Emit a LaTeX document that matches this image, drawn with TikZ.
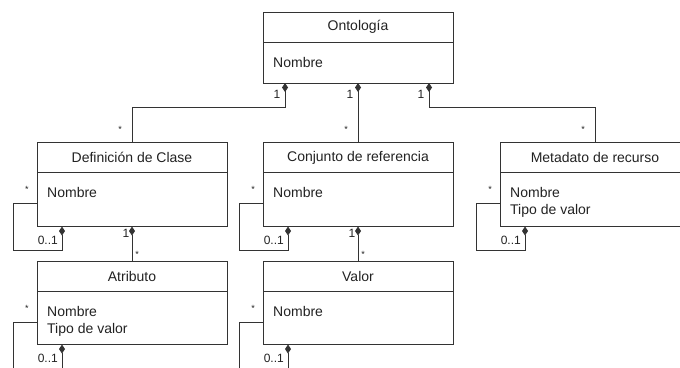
\documentclass[tikz,border=0pt]{standalone}
\usepackage{fontspec}
\setmainfont{Liberation Sans}
\usepackage{tikz}
\usetikzlibrary{positioning,calc,arrows.meta}

\definecolor{linec}{HTML}{333333}
\definecolor{textc}{HTML}{222222}

\tikzset{
  classhead/.style={draw=linec, line width=1pt, outer sep=0pt, minimum width=190pt,
    minimum height=30pt, inner sep=0pt, text=textc, font=\fontsize{14}{17}\selectfont},
  classbody/.style={draw=linec, line width=1pt, outer sep=0pt, minimum width=190pt, inner sep=0pt},
  attrtext/.style={anchor=north west, inner sep=0pt, align=left, text=textc,
    font=\fontsize{14}{17}\selectfont},
  comp/.style={draw=linec, line width=1pt, -{Diamond[length=9pt,width=6pt]}},
  mult/.style={inner sep=0pt, text=textc, font=\fontsize{12}{12}\selectfont},
  star/.style={mult, font=\fontsize{9}{9}\selectfont}
}

\begin{document}
\begin{tikzpicture}[x=1pt, y=-1pt]
    \useasboundingbox (0,0) rectangle (680,367);
    \clip (0,0) rectangle (680,367);

    % clases
    \node[classhead] (onto-h) at (358,27) {Ontología};
    \node[classbody, minimum height=41pt, below=0pt of onto-h] (onto-b) {};
    \node[attrtext] (onto-t) at ($(onto-b.north west)+(10,15)$) {Nombre};

    \node[classhead] (defc-h) at (132,157.5) {Definición de Clase};
    \node[classbody, minimum height=54pt, below=0pt of defc-h] (defc-b) {};
    \node[attrtext] (defc-t) at ($(defc-b.north west)+(10,15)$) {Nombre};

    \node[classhead] (conj-h) at (358,157.5) {Conjunto de referencia};
    \node[classbody, minimum height=54pt, below=0pt of conj-h] (conj-b) {};
    \node[attrtext] (conj-t) at ($(conj-b.north west)+(10,15)$) {Nombre};

    \node[classhead] (meta-h) at (595,157.5) {Metadato de recurso};
    \node[classbody, minimum height=54pt, below=0pt of meta-h] (meta-b) {};
    \node[attrtext] (meta-t) at ($(meta-b.north west)+(10,15)$) {Nombre\\Tipo de valor};

    \node[classhead] (atri-h) at (132,276.5) {Atributo};
    \node[classbody, minimum height=53pt, below=0pt of atri-h] (atri-b) {};
    \node[attrtext] (atri-t) at ($(atri-b.north west)+(10,15)$) {Nombre\\Tipo de valor};

    \node[classhead] (valo-h) at (358,276.5) {Valor};
    \node[classbody, minimum height=53pt, below=0pt of valo-h] (valo-b) {};
    \node[attrtext] (valo-t) at ($(valo-b.north west)+(10,15)$) {Nombre};

    % composiciones desde Ontologia
    \coordinate (onto-l) at ($(onto-b.south)+(-73,0)$);
    \coordinate (onto-r) at ($(onto-b.south)+(71,0)$);
    \draw[comp] (defc-h.north) -- ++(0,-35) -| (onto-l);
    \draw[comp] (conj-h.north) -- (onto-b.south);
    \draw[comp] (meta-h.north) -- ++(0,-35) -| (onto-r);
    \node[mult] (m1) at ($(onto-l)+(-8,11)$) {1};
    \node[mult] (m2) at ($(onto-b.south)+(-8,11)$) {1};
    \node[mult] (m3) at ($(onto-r)+(-8,11)$) {1};
    \node[star] (m4) at ($(defc-h.north)+(-12,-13)$) {*};
    \node[star] (m5) at ($(conj-h.north)+(-12,-13)$) {*};
    \node[star] (m6) at ($(meta-h.north)+(-12,-13)$) {*};

    % composiciones hacia abajo
    \draw[comp] (atri-h.north) -- (defc-b.south);
    \draw[comp] (valo-h.north) -- (conj-b.south);
    \node[mult] (m7) at ($(defc-b.south)+(-6,7)$) {1};
    \node[star] (m8) at ($(atri-h.north)+(5,-7)$) {*};
    \node[mult] (m9) at ($(conj-b.south)+(-6,7)$) {1};
    \node[star] (m10) at ($(valo-h.north)+(5,-7)$) {*};

    % auto-composiciones
    \foreach \c in {defc,conj,meta,atri,valo} {
      \coordinate (\c-in) at ($(\c-b.north west)+(0,31)$);
      \coordinate (\c-sd) at ($(\c-b.south west)+(25,0)$);
      \draw[comp] (\c-in) -- ++(-24,0) |- ($(\c-sd)+(0,24)$) -- (\c-sd);
      \node[star] (\c-ms) at ($(\c-in)+(-10,-14)$) {*};
      \node[mult, anchor=east] (\c-mo) at ($(\c-sd)+(-4,14)$) {0..1};
    }
  \end{tikzpicture}
\end{document}
